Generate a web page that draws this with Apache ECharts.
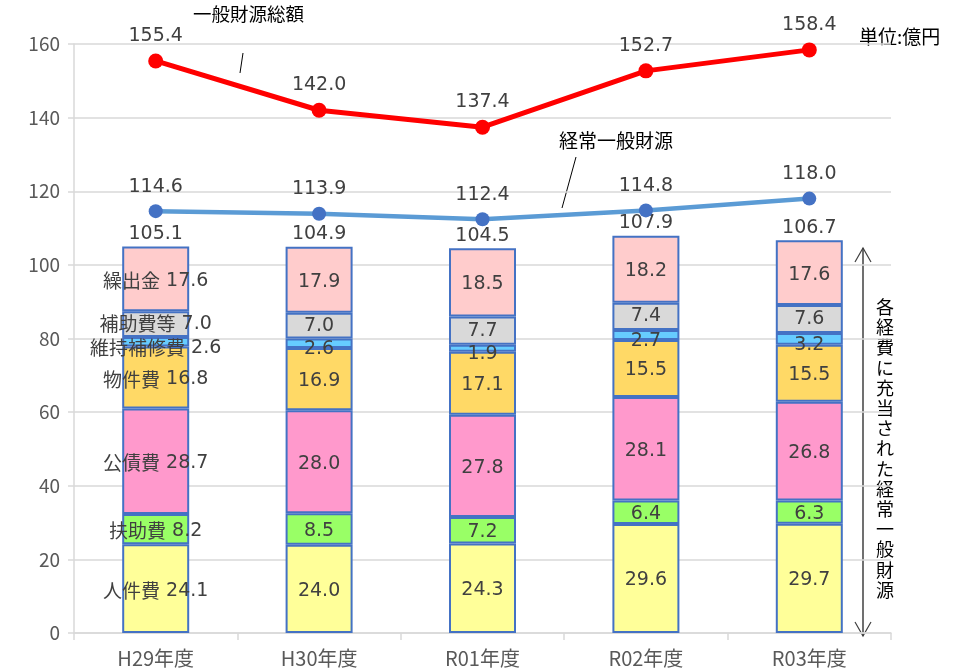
<!DOCTYPE html>
<html>
<head>
<meta charset="utf-8">
<script src="https://cdn.jsdelivr.net/npm/echarts@6/dist/echarts.min.js"></script>
<style>
  html, body { margin: 0; padding: 0; background: #fff; }
  #chart { width: 964px; height: 672px; }
</style>
</head>
<body>
<div id="chart"></div>
<script>
  // カテゴリ
  var categories = ['H29年度', 'H30年度', 'R01年度', 'R02年度', 'R03年度']
  // 各経費（億円）
  var jinkenhi = [24.1, 24.0, 24.3, 29.6, 29.7]
  var fujohi = [8.2, 8.5, 7.2, 6.4, 6.3]
  var kosaihi = [28.7, 28.0, 27.8, 28.1, 26.8]
  var bukkenhi = [16.8, 16.9, 17.1, 15.5, 15.5]
  var ijihoshuhi = [2.6, 2.6, 1.9, 2.7, 3.2]
  var hojohi = [7.0, 7.0, 7.7, 7.4, 7.6]
  var kuridashi = [17.6, 17.9, 18.5, 18.2, 17.6]
  // 合計（棒の上の数値）
  var totals = [105.1, 104.9, 104.5, 107.9, 106.7]
  // 折れ線
  var ippanTotal = [155.4, 142.0, 137.4, 152.7, 158.4]
  var keijoIppan = [114.6, 113.9, 112.4, 114.8, 118.0]
  var yTicks = [0, 20, 40, 60, 80, 100, 120, 140, 160]

  var numFont = 'DejaVu Sans'
  var jpFont = 'Noto Sans CJK JP'
  var labelColor = '#404040'
  var borderColor = '#4472C4'

  var chart = echarts.init(document.getElementById('chart'))

  function barSeries(name, data, color, offsetY) {
    return {
      name: name,
      type: 'bar',
      stack: 'total',
      barWidth: 67,
      data: data,
      itemStyle: { color: color, borderColor: borderColor, borderWidth: 2 },
      label: {
        show: true,
        position: 'inside',
        offset: [0, offsetY || 0],
        color: labelColor,
        fontFamily: numFont,
        fontSize: 19,
        formatter: function(p) {
          var v = p.value.toFixed(1)
          // 最初の年度だけ項目名を付ける
          return p.dataIndex === 0 ? '{n|' + name + '} ' + v : v
        },
        rich: {
          n: { fontFamily: jpFont, fontSize: 19, color: labelColor }
        }
      }
    }
  }

  function numLabel(dist) {
    return {
      show: true,
      position: 'top',
      distance: dist,
      color: labelColor,
      fontFamily: numFont,
      fontSize: 19,
      formatter: function(p) { return p.value.toFixed(1) }
    }
  }

  var option = {
    animation: false,
    grid: { left: 74, right: 73, top: 44, bottom: 39 },
    xAxis: {
      type: 'category',
      data: categories,
      axisLine: { lineStyle: { color: '#D9D9D9', width: 1.5 } },
      axisTick: { show: true, length: 7, lineStyle: { color: '#D9D9D9', width: 1.5 } },
      axisLabel: { color: '#595959', fontFamily: jpFont, fontSize: 20, margin: 15 },
      splitLine: { show: false }
    },
    yAxis: {
      type: 'value',
      min: yTicks[0],
      max: yTicks[yTicks.length - 1],
      interval: 20,
      axisLine: { show: true, lineStyle: { color: '#D9D9D9', width: 1.5 } },
      axisTick: { show: true, length: 6, lineStyle: { color: '#D9D9D9', width: 1.5 } },
      axisLabel: { color: '#595959', fontFamily: jpFont, fontSize: 19, margin: 14 },
      splitLine: { lineStyle: { color: '#D9D9D9', width: 1.5 } }
    },
    series: [
      barSeries('人件費', jinkenhi, '#FFFF99', 2),
      barSeries('扶助費', fujohi, '#99FF66', 2),
      barSeries('公債費', kosaihi, '#FF99CC', 2),
      barSeries('物件費', bukkenhi, '#FFD966', 2),
      barSeries('維持補修費', ijihoshuhi, '#66CCFF', 6),
      barSeries('補助費等', hojohi, '#D9D9D9', 0),
      barSeries('繰出金', kuridashi, '#FFCCCC', 2),
      {
        name: '合計',
        type: 'scatter',
        data: totals,
        symbolSize: 0,
        itemStyle: { opacity: 1, color: 'transparent' },
        label: numLabel(3),
        z: 3
      },
      {
        name: '一般財源総額',
        type: 'line',
        data: ippanTotal,
        symbol: 'circle',
        symbolSize: 15,
        lineStyle: { color: '#FF0000', width: 5 },
        itemStyle: { color: '#FF0000' },
        label: numLabel(8),
        z: 5
      },
      {
        name: '経常一般財源',
        type: 'line',
        data: keijoIppan,
        symbol: 'circle',
        symbolSize: 14,
        lineStyle: { color: '#5B9BD5', width: 4.5 },
        itemStyle: { color: '#4472C4' },
        label: numLabel(8),
        z: 5
      }
    ],
    graphic: [
      { type: 'text', left: 193, top: 5, style: { text: '一般財源総額', fontFamily: jpFont, fontSize: 18.5, fill: '#000' } },
      { type: 'line', shape: { x1: 243, y1: 53, x2: 240, y2: 73 }, style: { stroke: '#000', lineWidth: 1 } },
      { type: 'text', left: 559, top: 131, style: { text: '経常一般財源', fontFamily: jpFont, fontSize: 19, fill: '#000' } },
      { type: 'line', shape: { x1: 576, y1: 157, x2: 562, y2: 208 }, style: { stroke: '#000', lineWidth: 1 } },
      { type: 'text', left: 859, top: 27, style: { text: '単位:億円', fontFamily: jpFont, fontSize: 19, fill: '#000' } },
      { type: 'line', shape: { x1: 863, y1: 248, x2: 863, y2: 636 }, style: { stroke: '#404040', lineWidth: 1.5 } },
      { type: 'polyline', shape: { points: [[855, 262], [863, 248], [871, 262]] }, style: { stroke: '#404040', lineWidth: 1.2, fill: null } },
      { type: 'polyline', shape: { points: [[855, 622], [863, 636], [871, 622]] }, style: { stroke: '#404040', lineWidth: 1.2, fill: null } },
      {
        type: 'text', left: 876, top: 297,
        style: {
          text: '各経費に充当された経常一般財源'.split('').join('\n'),
          fontFamily: jpFont, fontSize: 18, lineHeight: 20.2, fill: '#000', align: 'center'
        }
      }
    ]
  }
  chart.setOption(option)
</script>
</body>
</html>
